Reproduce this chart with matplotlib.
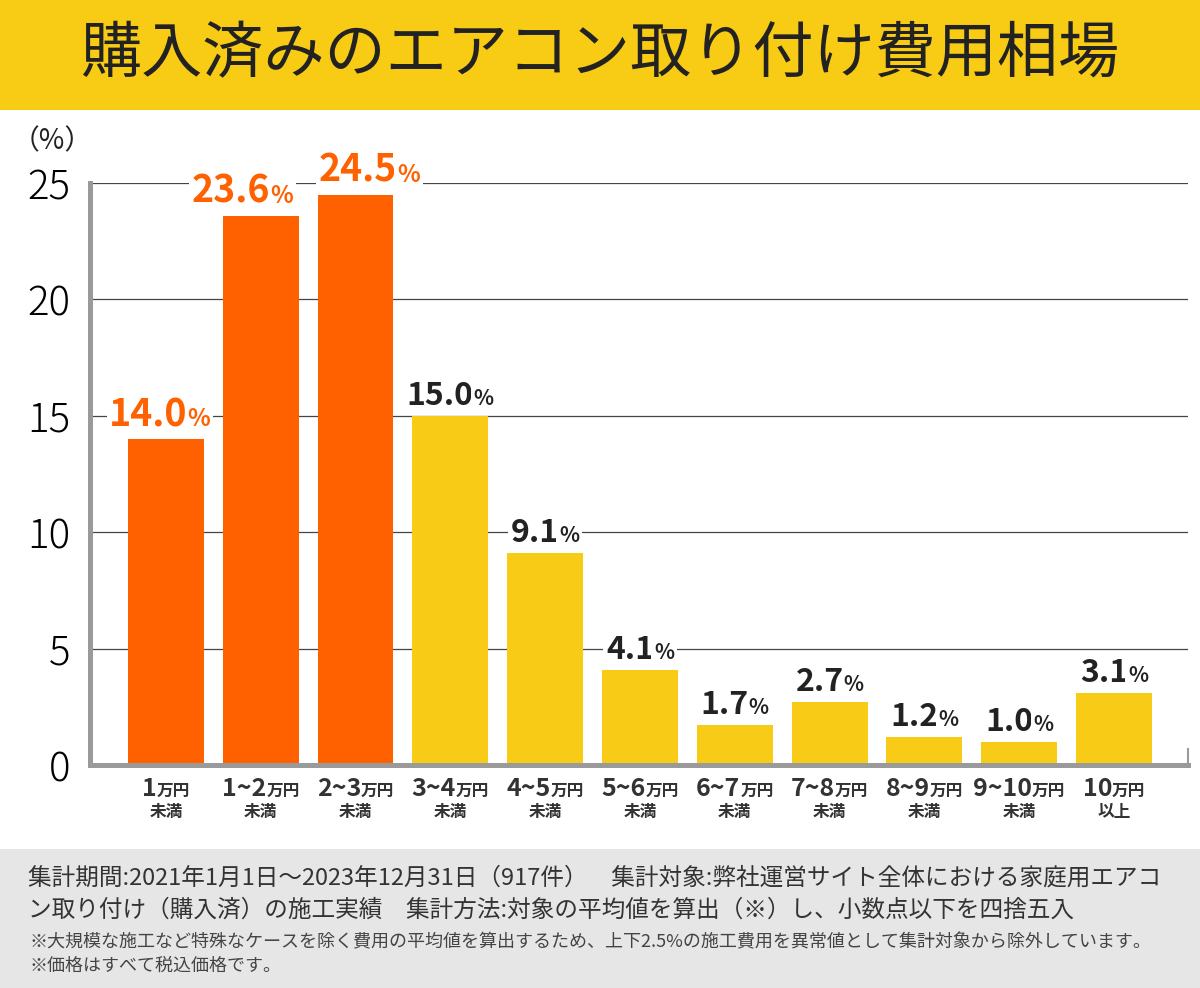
import matplotlib.pyplot as plt
from matplotlib.patches import Rectangle
from matplotlib.transforms import ScaledTranslation

plt.rcParams['font.family'] = ['Noto Sans CJK JP', 'DejaVu Sans']

# データ
range_labels = ['1', '1~2', '2~3', '3~4', '4~5', '5~6', '6~7', '7~8', '8~9', '9~10', '10']
unit_label = '万円'
suffix_labels = ['未満'] * 10 + ['以上']
values = [14.0, 23.6, 24.5, 15.0, 9.1, 4.1, 1.7, 2.7, 1.2, 1.0, 3.1]
highlight = [True, True, True, False, False, False, False, False, False, False, False]
y_ticks = [0, 5, 10, 15, 20, 25]

title = '購入済みのエアコン取り付け費用相場'
note_lines = [
    '集計期間:2021年1月1日～2023年12月31日（917件）　集計対象:弊社運営サイト全体における家庭用エアコ',
    'ン取り付け（購入済）の施工実績　集計方法:対象の平均値を算出（※）し、小数点以下を四捨五入',
]
small_notes = [
    '※大規模な施工など特殊なケースを除く費用の平均値を算出するため、上下2.5%の施工費用を異常値として集計対象から除外しています。',
    '※価格はすべて税込価格です。',
]

ORANGE = '#FF6100'
YELLOW = '#F8CC16'
DARK = '#222222'

W, H = 1200, 988
fig = plt.figure(figsize=(W / 100, H / 100), dpi=100)
fig.patch.set_facecolor('white')

# タイトル帯と下部の注記帯
fig.patches.append(Rectangle((0, 1 - 110 / H), 1, 110 / H, transform=fig.transFigure,
                             facecolor='#F8CB15', edgecolor='none', zorder=0))
fig.patches.append(Rectangle((0, 0), 1, (H - 849) / H, transform=fig.transFigure,
                             facecolor='#E6E6E6', edgecolor='none', zorder=0))
fig.text(0.5, 1 - 55 / H, title, ha='center', va='center', fontsize=44,
         fontweight='regular', color=DARK)

ax = fig.add_axes([90 / W, (H - 765) / H, 1098 / W, 582 / H])
x = list(range(len(values)))
colors = [ORANGE if h else YELLOW for h in highlight]
ax.bar(x, values, width=0.8, color=colors, zorder=2)
ax.set_xlim(-0.8, 10.78)
ax.set_ylim(0, 25)
ax.set_yticks(y_ticks)
ax.set_yticklabels([str(t) for t in y_ticks], fontsize=29, fontweight='light', color='black')
ax.tick_params(axis='y', length=0, pad=14)
ax.set_xticks([])
ax.grid(axis='y', color='#444444', linewidth=0.9, zorder=1)
ax.set_axisbelow(True)
ax.spines['top'].set_visible(False)
ax.spines['left'].set_color('#9A9A9A')
ax.spines['left'].set_linewidth(3.6)
ax.spines['bottom'].set_color('#9A9A9A')
ax.spines['bottom'].set_linewidth(3.6)
ax.spines['right'].set_color('#9A9A9A')
ax.spines['right'].set_linewidth(1.5)
ax.spines['right'].set_bounds(0, 0.7)

fig.text(52 / W, 1 - 141 / H, '（%）', ha='center', va='center', fontsize=20, color=DARK)

renderer = fig.canvas.get_renderer()


def two_part(xpos, ypos, base_tr, big, small, big_size, small_size, color, dy, dx=0, bg=False):
    """大きい文字と小さい文字を並べて中央寄せ"""
    kw = dict(va='baseline', ha='left', color=color, fontweight='bold', clip_on=False, zorder=5)
    if bg:
        kw['bbox'] = dict(facecolor='white', edgecolor='none', pad=2.0)
    t1 = ax.text(xpos, ypos, big, fontsize=big_size, transform=base_tr, **kw)
    t2 = ax.text(xpos, ypos, small, fontsize=small_size, transform=base_tr, **kw)
    w1 = t1.get_window_extent(renderer).width
    w2 = t2.get_window_extent(renderer).width
    left = -(w1 + w2) / 2 + dx
    t1.set_transform(base_tr + ScaledTranslation(left / 100, dy / 100, fig.dpi_scale_trans))
    t2.set_transform(base_tr + ScaledTranslation((left + w1) / 100, dy / 100, fig.dpi_scale_trans))


# 値ラベル（上位の隣接ラベルは重ならないよう左右にずらす）
label_shift = {0: -6, 1: -18, 2: 14}
for i, v in enumerate(values):
    if highlight[i]:
        two_part(i, v, ax.transData, f'{v:.1f}', '%', 27, 17, ORANGE, 13,
                 dx=label_shift.get(i, 0), bg=True)
    else:
        two_part(i, v, ax.transData, f'{v:.1f}', '%', 23, 15, DARK, 11, bg=True)

# 横軸ラベル
xa = ax.get_xaxis_transform()
for i, (r, s) in enumerate(zip(range_labels, suffix_labels)):
    two_part(i, 0, xa, r, unit_label, 18, 12, '#333333', -31)
    ax.text(i, 0, s, transform=xa + ScaledTranslation(0, -47 / 100, fig.dpi_scale_trans),
            ha='center', va='center', fontsize=12, fontweight='bold', color='#333333', clip_on=False)

# 注記
for k, line in enumerate(note_lines):
    fig.text(28 / W, 1 - (878 + 32 * k) / H, line, ha='left', va='center', fontsize=17, color='#333333')
for k, line in enumerate(small_notes):
    fig.text(30 / W, 1 - (942 + 24 * k) / H, line, ha='left', va='center', fontsize=13, color='#444444')

fig.savefig('out.png', dpi=100)
